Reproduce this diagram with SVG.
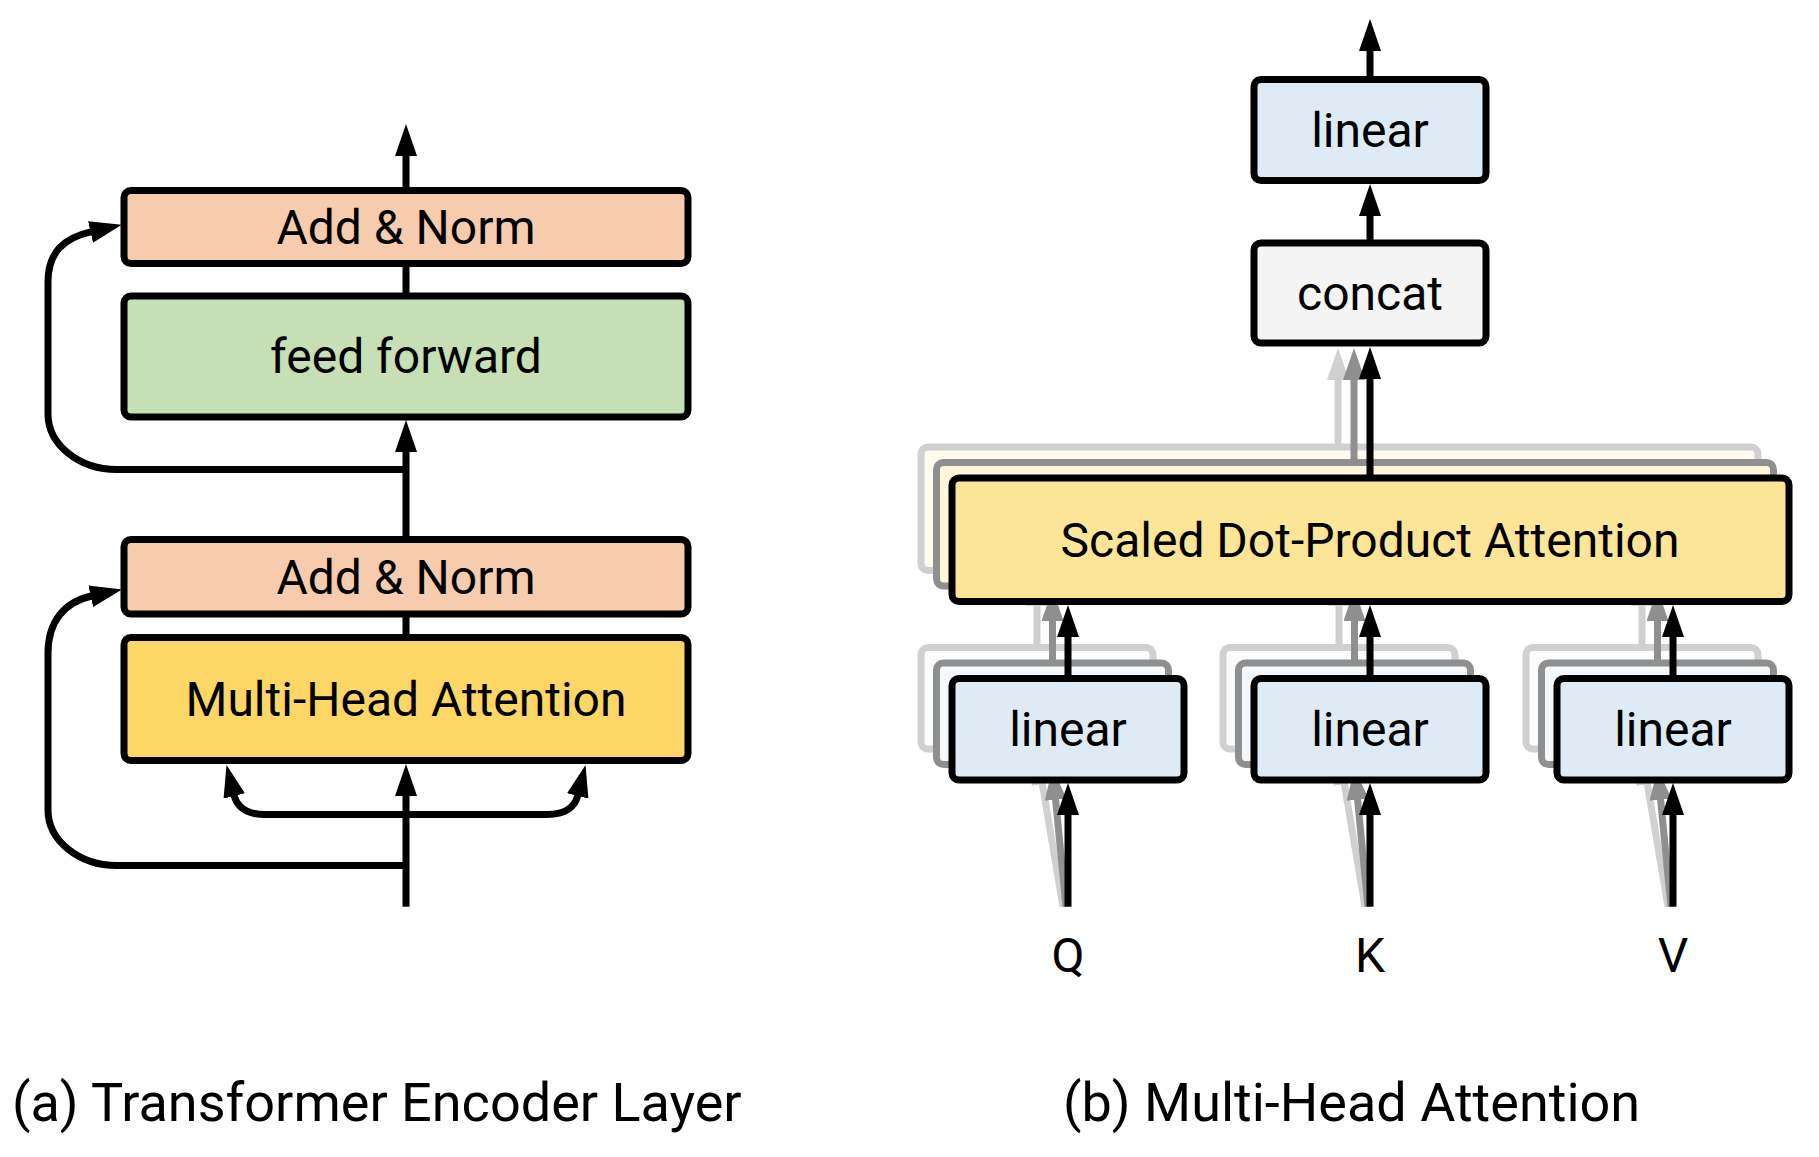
<svg xmlns="http://www.w3.org/2000/svg" width="1819" height="1157" viewBox="0 0 1819 1157">
<style>
  text { font-family: Roboto, "Liberation Sans", sans-serif; fill: #000; text-anchor: middle; }
  .lbl { font-size: 48px; }
  .cap { font-size: 54px; text-anchor: start; }
  .box { stroke: #000; stroke-width: 7; }
  .mid { stroke: #8f8f8f; stroke-width: 7; }
  .back { stroke: #d0d0d0; stroke-width: 7; }
  .an { fill: #f7cbad; }
  .ff { fill: #c7dfb5; }
  .mha { fill: #fcd766; }
  .sdpa { fill: #fde597; }
  .lin { fill: #deebf5; }
  .cc { fill: #f3f4f3; }
  .c { fill: none; stroke: #000; stroke-width: 7; marker-end: url(#ah); }
  .cg { fill: none; stroke: #8f8f8f; stroke-width: 7; marker-end: url(#ahg); }
  .cl { fill: none; stroke: #d0d0d0; stroke-width: 7; marker-end: url(#ahl); }
  .ln { fill: none; stroke: #000; stroke-width: 7; }
</style>
<defs>
  <marker id="ah" markerUnits="userSpaceOnUse" markerWidth="32" markerHeight="22" viewBox="0 0 32 22" refX="1" refY="11" orient="auto"><path d="M0,0 L32,11 L0,22 z" fill="#000"/></marker>
  <marker id="ahg" markerUnits="userSpaceOnUse" markerWidth="32" markerHeight="22" viewBox="0 0 32 22" refX="1" refY="11" orient="auto"><path d="M0,0 L32,11 L0,22 z" fill="#8f8f8f"/></marker>
  <marker id="ahl" markerUnits="userSpaceOnUse" markerWidth="32" markerHeight="22" viewBox="0 0 32 22" refX="1" refY="11" orient="auto"><path d="M0,0 L32,11 L0,22 z" fill="#d0d0d0"/></marker>
</defs>
<rect width="1819" height="1157" fill="#fff"/>

<!-- (a) Transformer Encoder Layer -->
<g id="addnorm-top"><rect class="box an" x="124" y="190.5" width="564" height="73" rx="7"/><text class="lbl" x="406" y="244">Add &amp; Norm</text></g>
<g id="feed-forward"><rect class="box ff" x="124" y="296" width="564" height="121" rx="7"/><text class="lbl" x="406" y="373">feed forward</text></g>
<g id="addnorm-bottom"><rect class="box an" x="124" y="539.5" width="564" height="74.5" rx="7"/><text class="lbl" x="406" y="594">Add &amp; Norm</text></g>
<g id="multi-head-attention"><rect class="box mha" x="124" y="637.5" width="564" height="123" rx="7"/><text class="lbl" x="406" y="716">Multi-Head Attention</text></g>

<!-- (b) Multi-Head Attention : stacked heads -->
<g id="stack-back">
  <rect class="back" fill="#fffbef" x="921" y="447" width="837" height="123.5" rx="7"/>
  <rect class="back" fill="#fbfcfd" x="921" y="647.5" width="232" height="101.5" rx="7"/>
  <rect class="back" fill="#fbfcfd" x="1223" y="647.5" width="232" height="101.5" rx="7"/>
  <rect class="back" fill="#fbfcfd" x="1526" y="647.5" width="232" height="101.5" rx="7"/>
</g>
<g id="stack-back-connectors">
  <path class="cl" d="M1338,447 V379"/>
  <path class="cl" d="M1037,647.5 V605"/>
  <path class="cl" d="M1339,647.5 V605"/>
  <path class="cl" d="M1642,647.5 V605"/>
  <path class="cl" d="M1063,906.7 L1042.2,783.1"/>
  <path class="cl" d="M1365,906.7 L1344.2,783.1"/>
  <path class="cl" d="M1668,906.7 L1647.2,783.1"/>
</g>
<g id="stack-middle">
  <rect class="mid" fill="#fff6dc" x="936.5" y="462.5" width="837" height="123.5" rx="7"/>
  <rect class="mid" fill="#f4f8fb" x="936.5" y="663" width="232" height="101.5" rx="7"/>
  <rect class="mid" fill="#f4f8fb" x="1238.5" y="663" width="232" height="101.5" rx="7"/>
  <rect class="mid" fill="#f4f8fb" x="1541.5" y="663" width="232" height="101.5" rx="7"/>
</g>
<g id="stack-middle-connectors">
  <path class="cg" d="M1354,462.5 V379"/>
  <path class="cg" d="M1052.5,663 V620"/>
  <path class="cg" d="M1354.5,663 V620"/>
  <path class="cg" d="M1657.5,663 V620"/>
  <path class="cg" d="M1066,906.7 L1055.5,798.8"/>
  <path class="cg" d="M1368,906.7 L1357.5,798.8"/>
  <path class="cg" d="M1671,906.7 L1660.5,798.8"/>
</g>

<g id="linear-out"><rect class="box lin" x="1254" y="79.5" width="232" height="101" rx="7"/><text class="lbl" x="1370" y="147">linear</text></g>
<g id="concat"><rect class="box cc" x="1254" y="243" width="232" height="100" rx="7"/><text class="lbl" x="1370" y="310">concat</text></g>
<g id="sdpa"><rect class="box sdpa" x="952" y="478" width="837" height="123.5" rx="7"/><text class="lbl" x="1370" y="557">Scaled Dot-Product Attention</text></g>
<g id="linear-q"><rect class="box lin" x="952" y="678.5" width="232" height="101.5" rx="7"/><text class="lbl" x="1068" y="746">linear</text></g>
<g id="linear-k"><rect class="box lin" x="1254" y="678.5" width="232" height="101.5" rx="7"/><text class="lbl" x="1370" y="746">linear</text></g>
<g id="linear-v"><rect class="box lin" x="1557" y="678.5" width="232" height="101.5" rx="7"/><text class="lbl" x="1673" y="746">linear</text></g>
<g id="input-q"><text class="lbl" x="1068" y="972">Q</text></g>
<g id="input-k"><text class="lbl" x="1370" y="972">K</text></g>
<g id="input-v"><text class="lbl" x="1673" y="972">V</text></g>

<g id="connectors">
  <!-- encoder -->
  <path class="c" d="M406,190.5 V155"/>
  <path class="ln" d="M406,263.5 V296"/>
  <path class="c" d="M406,539.5 V451"/>
  <path class="ln" d="M406,614 V637.5"/>
  <path class="c" d="M406,906.7 V795"/>
  <path class="c" d="M406,469.5 H117 C78.9,469.5 48,444.6 48,414 V282 C48,252 64,238 91.5,231.7"/>
  <path class="c" d="M406,865.5 H117 C78.9,865.5 48,840.6 48,810 V653 C48,622 64,602 91.7,596"/>
  <path class="c" d="M406,814.5 H265 C247,814.5 237,807 234,795"/>
  <path class="c" d="M406,814.5 H547 C565,814.5 575,807 578,795"/>
  <!-- multi-head attention -->
  <path class="c" d="M1370,79.5 V50"/>
  <path class="c" d="M1370,243 V215"/>
  <path class="c" d="M1370,478 V378"/>
  <path class="c" d="M1068,678.5 V636"/>
  <path class="c" d="M1370,678.5 V636"/>
  <path class="c" d="M1673,678.5 V636"/>
  <path class="c" d="M1068,906.7 V814"/>
  <path class="c" d="M1370,906.7 V814"/>
  <path class="c" d="M1673,906.7 V814"/>
</g>

<g id="captions">
  <text class="cap" x="12" y="1121">(a) Transformer Encoder Layer</text>
  <text class="cap" x="1063" y="1121">(b) Multi-Head Attention</text>
</g>
</svg>
